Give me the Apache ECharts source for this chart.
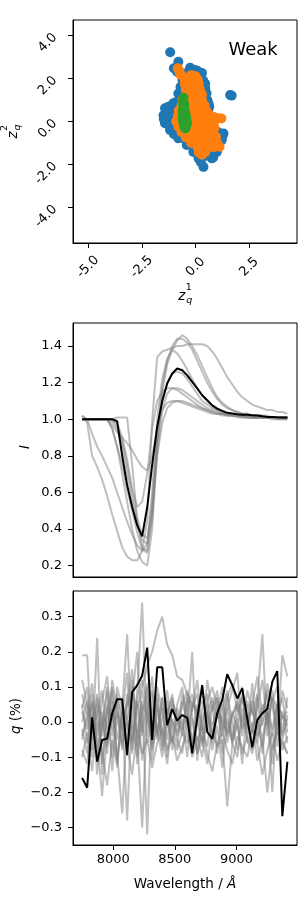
<!DOCTYPE html>
<html><head><meta charset="utf-8">
<script src="https://cdn.jsdelivr.net/npm/echarts@6/dist/echarts.min.js"></script>
<style>html,body{margin:0;padding:0;background:#fff}#c{width:300px;height:900px}</style>
</head><body><div id="c"></div>
<script>
// ---------- tick labels ----------
const zTicksX = [-5.0, -2.5, 0.0, 2.5];
const zTicksY = [-4.0, -2.0, 0.0, 2.0, 4.0];
const iTicks = [0.2, 0.4, 0.6, 0.8, 1.0, 1.2, 1.4];
const qTicks = [-0.3, -0.2, -0.1, 0.0, 0.1, 0.2, 0.3];
const wlTicks = [8000, 8500, 9000];

// ---------- latent scatter (z_q^1, z_q^2) ----------
const blueZ = [[-1.18,3.22],[-0.80,2.78],[-1.01,2.47],[-0.85,2.30],[-0.61,1.93],[-0.55,1.65],[-0.40,2.10],[-0.25,2.50],[-0.02,2.39],[0.10,2.35],[0.21,2.08],[0.30,2.25],[0.36,1.90],[0.45,1.54],[0.45,1.75],[0.51,1.31],[0.55,1.00],[0.60,0.84],[0.64,0.68],[0.60,0.40],[1.61,1.23],[1.68,1.20],
[-1.42,0.61],[-1.49,0.29],[-1.47,0.10],[-1.42,-0.09],[-1.30,0.00],[-1.18,-0.41],[-1.20,-0.25],[-0.80,-0.79],[-1.00,-0.60],[-1.27,0.68],[-1.15,0.55],[-1.04,0.84],[-0.90,0.90],[-0.73,0.99],[-0.80,1.30],[-0.70,1.60],[-0.41,-1.10],[-0.10,-1.42],
[1.30,-0.56],[1.22,-0.87],[1.25,-0.70],[0.99,-1.42],[0.95,-1.03],[0.82,-1.18],[0.90,-0.80],[1.05,-0.50],
[0.14,-1.72],[0.37,-2.12],[0.25,-1.90],[0.76,-1.72],[0.82,-1.68],[0.50,-1.60],[-0.03,-1.41],[-0.26,-1.03],[-0.45,-0.85],[-0.10,-1.20],[0.40,-1.35],[0.70,-1.40],
[-0.6,0.5],[-1.2,0.3],[-1.0,-0.1],[-0.7,-0.4],[-0.5,-0.8],[-0.2,-0.6],[0.2,-0.9],[0.5,-1.2],[0.7,-0.4],[0.6,0.2],[0.4,0.6],[0.0,0.4],[-0.4,0.1],[-0.9,0.2],[0.0,-1.2],[0.6,-0.9],[0.2,1.9],[-0.2,1.2],[0.1,1.4],[-0.35,2.3]];
const orangeZ = [[-0.82,2.47],[-0.75,2.35],
[-0.72,2.20],[-0.60,2.10],[-0.20,2.15],[0.00,2.10],
[-0.50,2.00],[-0.30,2.00],[-0.10,2.00],[0.10,1.95],
[-0.50,1.75],[-0.30,1.75],[-0.10,1.75],[0.15,1.75],
[-0.45,1.50],[-0.25,1.50],[-0.05,1.50],[0.20,1.50],
[-0.45,1.25],[-0.25,1.25],[0.00,1.25],[0.30,1.25],
[-0.60,1.00],[-0.40,1.00],[-0.20,1.00],[0.05,1.00],[0.30,1.00],
[-0.65,0.75],[-0.45,0.75],[-0.20,0.75],[0.05,0.75],[0.25,0.75],[0.42,0.75],
[-0.78,0.50],[-0.55,0.50],[-0.30,0.50],[-0.05,0.50],[0.20,0.50],[0.50,0.50],
[-0.82,0.25],[-0.60,0.25],[-0.35,0.25],[-0.10,0.25],[0.15,0.25],[0.40,0.25],[0.65,0.30],[0.85,0.20],[1.05,0.15],[1.20,0.14],
[-0.90,0.00],[-0.65,0.00],[-0.40,0.00],[-0.15,0.00],[0.10,0.00],[0.35,0.00],[0.60,0.00],[0.85,-0.05],
[-0.80,-0.25],[-0.55,-0.25],[-0.30,-0.25],[-0.05,-0.25],[0.20,-0.25],[0.45,-0.25],[0.70,-0.25],[0.88,-0.30],
[-0.65,-0.50],[-0.40,-0.50],[-0.15,-0.50],[0.10,-0.50],[0.35,-0.50],[0.60,-0.50],[0.80,-0.50],
[-0.45,-0.75],[-0.20,-0.75],[0.05,-0.75],[0.30,-0.75],[0.55,-0.75],[0.80,-0.75],[0.95,-0.72],
[-0.20,-1.00],[0.05,-1.00],[0.30,-1.00],[0.55,-1.00],[0.80,-1.00],[1.00,-1.00],
[0.10,-1.20],[0.35,-1.20],[0.60,-1.20],[0.85,-1.20],[1.12,-1.18],
[0.15,-1.45],[0.30,-1.55],[0.45,-1.42]];
const greenZ = [[-0.56,1.10],[-0.57,0.95],[-0.58,0.80],[-0.55,0.65],[-0.60,0.50],[-0.50,0.50],[-0.60,0.35],[-0.47,0.35],[-0.60,0.20],[-0.44,0.20],[-0.58,0.05],[-0.42,0.05],[-0.56,-0.10],[-0.40,-0.10],[-0.52,-0.25],[-0.44,-0.25],[-0.48,-0.33],[-0.52,0.80]];

// ---------- spectra ----------
const wavelength = [7748,7789,7829,7870,7910,7951,7992,8032,8073,8113,8154,8195,8235,8276,8316,8357,8398,8438,8479,8519,8560,8601,8641,8682,8722,8763,8804,8844,8885,8925,8966,9007,9047,9088,9128,9169,9210,9250,9291,9331,9372,9413];

const iMean = [1.0,1.0,1.0,1.0,1.0,1.0,1.0,0.99,0.80,0.64,0.52,0.42,0.36,0.52,0.75,0.96,1.10,1.195,1.25,1.277,1.268,1.24,1.204,1.168,1.131,1.104,1.076,1.058,1.046,1.035,1.031,1.027,1.025,1.024,1.022,1.02,1.016,1.013,1.013,1.011,1.009,1.009];
const iGrayA = [1.02,0.98,0.80,0.74,0.67,0.58,0.48,0.39,0.30,0.25,0.23,0.23,0.28,0.45,0.99,1.34,1.37,1.38,1.39,1.40,1.40,1.41,1.41,1.41,1.41,1.40,1.37,1.33,1.28,1.23,1.19,1.15,1.12,1.10,1.08,1.07,1.06,1.05,1.05,1.04,1.04,1.03];
const iGrayB = [1.0,1.0,1.0,1.0,1.0,1.0,0.95,0.85,0.70,0.55,0.40,0.28,0.22,0.20,0.40,0.85,1.15,1.30,1.38,1.43,1.46,1.44,1.40,1.35,1.29,1.23,1.17,1.12,1.09,1.07,1.05,1.04,1.03,1.03,1.02,1.02,1.02,1.01,1.01,1.01,1.01,1.01];
const iGrayC = [1.0,1.0,1.0,1.0,1.0,1.0,0.97,0.93,0.90,0.87,0.83,0.78,0.74,0.72,0.80,0.95,1.05,1.09,1.10,1.10,1.09,1.08,1.07,1.06,1.05,1.04,1.03,1.03,1.02,1.02,1.02,1.01,1.01,1.01,1.01,1.01,1.01,1.01,1.00,1.00,1.00,1.00];
const iGrayD = [1.0,1.0,1.0,1.0,1.0,1.0,0.95,0.85,0.75,0.62,0.50,0.38,0.29,0.27,0.45,0.90,1.18,1.32,1.40,1.44,1.44,1.42,1.38,1.32,1.26,1.20,1.15,1.11,1.08,1.06,1.05,1.04,1.03,1.03,1.02,1.02,1.02,1.02,1.01,1.01,1.01,1.01];
const iGrayE = [1.0,1.0,1.0,1.0,1.0,1.0,1.0,0.98,0.90,0.78,0.62,0.52,0.55,0.70,0.95,1.10,1.15,1.17,1.17,1.16,1.14,1.12,1.10,1.08,1.06,1.05,1.04,1.03,1.03,1.02,1.02,1.02,1.01,1.01,1.01,1.01,1.01,1.01,1.01,1.00,1.00,1.00];
const iGrayF = [1.0,1.0,1.0,1.0,1.0,1.0,1.0,1.01,1.01,1.01,0.75,0.45,0.30,0.28,0.55,0.90,1.10,1.20,1.25,1.26,1.25,1.22,1.18,1.14,1.10,1.08,1.06,1.05,1.04,1.03,1.03,1.02,1.02,1.02,1.01,1.01,1.01,1.01,1.01,1.01,1.01,1.01];
const iGrayG = [1.02,1.00,0.92,0.85,0.80,0.74,0.68,0.60,0.52,0.44,0.37,0.31,0.28,0.32,0.60,1.00,1.22,1.33,1.38,1.36,1.32,1.27,1.22,1.17,1.13,1.10,1.07,1.05,1.04,1.03,1.02,1.02,1.02,1.01,1.01,1.01,1.01,1.01,1.01,1.01,1.01,1.01];
const iGrayH = [1.0,1.0,1.0,1.0,1.0,1.0,1.0,0.97,0.88,0.75,0.60,0.46,0.37,0.35,0.50,0.80,0.98,1.06,1.09,1.10,1.10,1.09,1.08,1.07,1.06,1.05,1.04,1.03,1.03,1.02,1.02,1.02,1.02,1.01,1.01,1.01,1.01,1.01,1.01,1.01,1.01,1.01];
const iGrayI = [1.0,1.0,1.0,1.0,1.0,1.0,0.99,0.95,0.85,0.70,0.55,0.42,0.34,0.32,0.48,0.82,1.05,1.14,1.17,1.17,1.16,1.14,1.12,1.10,1.08,1.06,1.05,1.04,1.03,1.03,1.02,1.02,1.02,1.02,1.01,1.01,1.01,1.01,1.01,1.01,1.01,1.01];
const iGrays = [iGrayA,iGrayB,iGrayC,iGrayD,iGrayE,iGrayF,iGrayG,iGrayH,iGrayI];

const qMean = [-0.159,-0.187,0.013,-0.113,-0.051,-0.047,0.025,0.065,0.065,-0.094,0.085,0.105,0.132,0.212,-0.051,0.156,0.156,-0.009,0.037,0.004,0.020,0.012,-0.089,0.010,0.105,-0.028,-0.048,0.025,0.063,0.136,0.105,0.067,0.096,0.010,-0.072,0.006,0.025,0.037,0.115,0.145,-0.268,-0.113];
const qGrayA = [0.12,0.05,-0.02,0.08,-0.12,0.03,0.10,-0.05,0.02,0.14,-0.08,0.09,0.34,-0.06,0.04,-0.03,0.07,-0.10,0.05,0.01,-0.04,0.08,-0.07,0.03,0.10,-0.02,0.06,-0.09,0.04,0.09,-0.05,0.02,0.07,-0.03,0.11,-0.06,0.03,0.08,-0.04,0.05,0.02,-0.01];
const qGrayB = [-0.05,0.03,-0.10,0.05,-0.02,0.09,-0.14,0.02,-0.07,0.04,0.12,-0.03,0.06,-0.32,0.08,-0.05,0.01,0.06,-0.08,0.04,-0.02,0.07,0.02,-0.09,0.01,0.05,-0.06,0.03,-0.04,0.08,0.00,-0.08,0.04,-0.02,0.06,0.01,-0.05,0.03,-0.12,0.02,0.07,-0.03];
const qGrayC = [0.03,-0.02,0.06,0.01,-0.04,0.04,0.00,0.07,0.02,0.05,0.08,0.04,0.10,0.16,0.20,0.26,0.30,0.22,0.19,0.13,0.12,0.08,0.05,0.03,0.06,0.02,-0.01,0.04,0.00,-0.03,0.02,0.05,-0.02,0.01,0.04,-0.04,0.00,0.03,-0.02,0.05,0.01,0.03];
const qGrayD = [0.19,0.19,-0.08,0.24,-0.15,0.05,-0.10,0.08,-0.03,-0.06,0.10,-0.12,0.02,0.11,-0.08,0.05,-0.04,0.09,-0.02,-0.07,0.06,0.00,0.20,-0.11,0.04,0.08,-0.05,0.02,0.10,-0.06,0.03,-0.02,0.07,0.01,-0.08,0.06,0.25,-0.04,0.09,-0.03,0.19,0.13];
const qGrayE = [-0.08,-0.12,0.02,-0.05,-0.21,-0.03,0.04,-0.09,-0.26,0.00,-0.06,0.05,-0.11,0.03,-0.07,-0.02,-0.10,0.00,-0.05,-0.08,-0.03,-0.06,0.01,-0.09,-0.04,-0.12,-0.02,-0.07,-0.05,-0.24,-0.06,-0.01,-0.09,-0.04,0.00,-0.11,-0.05,-0.20,-0.07,-0.02,-0.08,-0.04];
const qGrayF = [0.08,0.02,0.11,-0.04,0.06,0.13,-0.02,0.10,0.04,0.25,-0.05,0.07,0.12,0.05,0.09,-0.03,0.04,0.02,0.07,-0.01,0.05,0.09,0.03,0.12,-0.02,0.06,0.10,0.04,0.00,0.07,0.11,0.03,0.08,-0.01,0.05,0.13,0.02,0.09,0.06,0.10,-0.03,0.07];
const qGrayG = [-0.02,-0.09,0.04,-0.15,0.01,-0.07,0.06,-0.11,0.03,-0.28,0.05,-0.04,-0.30,0.02,-0.06,0.08,-0.03,-0.12,0.01,-0.05,-0.09,0.02,-0.07,-0.04,-0.10,0.03,-0.08,-0.01,-0.13,0.00,-0.06,-0.10,0.02,-0.05,-0.09,-0.01,-0.07,0.04,-0.08,-0.03,-0.06,-0.09];
const qGrayH = [0.04,0.10,-0.05,0.07,0.01,-0.09,0.12,0.03,-0.02,0.06,0.15,-0.07,0.09,0.02,0.13,-0.04,0.07,0.00,-0.06,0.05,0.10,-0.03,0.04,0.08,-0.05,0.12,0.03,0.07,-0.02,0.04,0.09,0.14,-0.04,0.06,0.02,0.08,-0.01,0.11,0.05,-0.02,0.09,0.04];
const qGrayI = [-0.10,-0.03,-0.14,0.00,-0.08,-0.18,-0.05,-0.12,0.02,-0.07,-0.15,-0.02,-0.09,-0.05,-0.13,-0.06,-0.02,-0.08,-0.04,-0.11,-0.07,-0.03,-0.10,-0.05,-0.01,-0.09,-0.14,-0.06,-0.03,-0.08,-0.12,-0.04,-0.07,-0.10,-0.02,-0.06,-0.15,-0.08,-0.03,-0.11,-0.05,-0.09];
const qGrayJ = [0.00,0.06,-0.03,0.02,0.09,-0.06,0.03,0.05,-0.08,0.01,0.07,0.20,-0.04,0.05,-0.02,0.10,0.03,-0.05,0.06,0.02,-0.03,0.04,0.08,0.00,-0.06,0.03,0.07,0.01,0.05,-0.04,0.02,0.06,-0.01,0.09,0.03,-0.02,0.05,0.00,0.07,0.04,-0.05,0.01];
const qGrayK = [0.05,-0.06,0.08,-0.10,0.03,-0.02,0.09,-0.13,0.05,0.01,-0.09,0.06,-0.03,0.10,-0.11,0.04,-0.07,0.02,0.08,-0.04,0.01,-0.10,0.06,0.03,-0.07,0.02,-0.03,0.07,-0.09,0.04,-0.06,0.01,-0.12,0.05,-0.03,0.07,-0.09,0.03,-0.20,0.06,-0.04,0.02];
const qGrayL = [-0.04,0.01,0.05,-0.07,-0.02,0.10,-0.04,0.03,-0.06,0.08,0.00,-0.10,0.05,0.02,-0.05,0.07,-0.08,0.04,0.00,-0.03,0.08,0.03,-0.06,0.05,-0.02,-0.07,0.04,0.09,-0.03,0.01,-0.05,0.06,0.10,-0.06,-0.02,0.04,0.12,-0.01,0.06,-0.07,0.03,-0.06];
const qGrays = [qGrayA,qGrayB,qGrayC,qGrayD,qGrayE,qGrayF,qGrayG,qGrayH,qGrayI,qGrayJ,qGrayK,qGrayL];

// ---------- build ----------
const FONT = 'DejaVu Sans';
const pair = arr => arr.map((v, i) => [wavelength[i], v]);
const minusFmt = v => (v < 0 ? '\u2212' : '') + Math.abs(v).toFixed(1);
const baseLine = {show: true, onZero: false, lineStyle: {color: '#000', width: 1}};
const labelBase = {color: '#000', fontSize: 13, fontFamily: FONT};

const series = [];
series.push({type: 'scatter', xAxisIndex: 0, yAxisIndex: 0, data: blueZ, symbolSize: 10, itemStyle: {color: '#1f77b4', opacity: 1}});
series.push({type: 'scatter', xAxisIndex: 0, yAxisIndex: 0, data: orangeZ, symbolSize: 10, itemStyle: {color: '#ff7f0e', opacity: 1}});
series.push({type: 'scatter', xAxisIndex: 0, yAxisIndex: 0, data: greenZ, symbolSize: 10, itemStyle: {color: '#2ca02c', opacity: 1}});
iGrays.forEach(g => series.push({type: 'line', xAxisIndex: 1, yAxisIndex: 1, data: pair(g), symbol: 'none',
  lineStyle: {color: '#808080', opacity: 0.5, width: 2}}));
series.push({type: 'line', xAxisIndex: 1, yAxisIndex: 1, data: pair(iMean), symbol: 'none', lineStyle: {color: '#000', width: 2}});
qGrays.forEach(g => series.push({type: 'line', xAxisIndex: 2, yAxisIndex: 2, data: pair(g), symbol: 'none',
  lineStyle: {color: '#808080', opacity: 0.5, width: 2}}));
series.push({type: 'line', xAxisIndex: 2, yAxisIndex: 2, data: pair(qMean), symbol: 'none', lineStyle: {color: '#000', width: 2}});

const gridBase = {show: true, borderColor: '#000', borderWidth: 1, backgroundColor: 'transparent', containLabel: false};

const option = {
  animation: false,
  backgroundColor: '#fff',
  grid: [
    Object.assign({left: 73, top: 20, width: 224, height: 223}, gridBase),
    Object.assign({left: 73, top: 323, width: 224, height: 254}, gridBase),
    Object.assign({left: 73, top: 591, width: 224, height: 254}, gridBase)
  ],
  xAxis: [
    {gridIndex: 0, type: 'value', min: -5.70, max: 4.72, axisLine: baseLine, splitLine: {show: false},
      axisTick: {show: true, length: 5, customValues: zTicksX, lineStyle: {color: '#000'}},
      axisLabel: Object.assign({customValues: zTicksX, rotate: 45, align: 'center', verticalAlign: 'middle', margin: 24,
        formatter: v => v.toFixed(1)}, labelBase)},
    {gridIndex: 1, type: 'value', min: 7674, max: 9491, axisLine: baseLine, splitLine: {show: false},
      axisTick: {show: false}, axisLabel: {show: false}},
    {gridIndex: 2, type: 'value', min: 7674, max: 9491, axisLine: baseLine, splitLine: {show: false},
      axisTick: {show: true, length: 5, customValues: wlTicks, lineStyle: {color: '#000'}},
      axisLabel: Object.assign({customValues: wlTicks, margin: 8, formatter: v => String(v)}, labelBase)}
  ],
  yAxis: [
    {gridIndex: 0, type: 'value', min: -5.66, max: 4.72, axisLine: baseLine, splitLine: {show: false},
      axisTick: {show: true, length: 5, customValues: zTicksY, lineStyle: {color: '#000'}},
      axisLabel: Object.assign({customValues: zTicksY, rotate: 45, align: 'right', verticalAlign: 'middle', margin: 18,
        formatter: v => v.toFixed(1)}, labelBase)},
    {gridIndex: 1, type: 'value', min: 0.138, max: 1.526, axisLine: baseLine, splitLine: {show: false},
      axisTick: {show: true, length: 5, customValues: iTicks, lineStyle: {color: '#000'}},
      axisLabel: Object.assign({customValues: iTicks, margin: 11, formatter: v => v.toFixed(1)}, labelBase)},
    {gridIndex: 2, type: 'value', min: -0.350, max: 0.373, axisLine: baseLine, splitLine: {show: false},
      axisTick: {show: true, length: 5, customValues: qTicks, lineStyle: {color: '#000'}},
      axisLabel: Object.assign({customValues: qTicks, margin: 11, formatter: minusFmt}, labelBase)}
  ],
  graphic: [
    {type: 'text', x: 228.5, y: 50, style: {text: 'Weak', font: '18px "DejaVu Sans"', fill: '#000', textAlign: 'left', textVerticalAlign: 'middle'}},
    {type: 'group', x: 181.7, y: 296, children: [
      {type: 'text', x: 0, y: 0, style: {text: 'z', font: 'italic 13.5px "DejaVu Sans"', fill: '#000', textAlign: 'center', textVerticalAlign: 'middle'}},
      {type: 'text', x: 7, y: -8.5, style: {text: '1', font: '9.5px "DejaVu Sans"', fill: '#000', textAlign: 'center', textVerticalAlign: 'middle'}},
      {type: 'text', x: 7.5, y: 4.5, style: {text: 'q', font: 'italic 9.5px "DejaVu Sans"', fill: '#000', textAlign: 'center', textVerticalAlign: 'middle'}}
    ]},
    {type: 'group', x: 13.5, y: 135, rotation: Math.PI / 2, children: [
      {type: 'text', x: 0, y: 0, style: {text: 'z', font: 'italic 13.5px "DejaVu Sans"', fill: '#000', textAlign: 'center', textVerticalAlign: 'middle'}},
      {type: 'text', x: 7, y: -8.5, style: {text: '2', font: '9.5px "DejaVu Sans"', fill: '#000', textAlign: 'center', textVerticalAlign: 'middle'}},
      {type: 'text', x: 7.5, y: 4.5, style: {text: 'q', font: 'italic 9.5px "DejaVu Sans"', fill: '#000', textAlign: 'center', textVerticalAlign: 'middle'}}
    ]},
    {type: 'text', x: 25, y: 447, rotation: Math.PI / 2, style: {text: 'I', font: 'italic 13.5px "DejaVu Sans"', fill: '#000', textAlign: 'center', textVerticalAlign: 'middle'}},
    {type: 'text', x: 16, y: 716, rotation: Math.PI / 2, style: {text: '{i|q} (%)', font: '13.5px "DejaVu Sans"', fill: '#000', textAlign: 'center', textVerticalAlign: 'middle',
      rich: {i: {fontStyle: 'italic', fontSize: 13.5, fontFamily: FONT}}}},
    {type: 'text', x: 185, y: 884, style: {text: 'Wavelength / {i|Å}', font: '13.5px "DejaVu Sans"', fill: '#000', textAlign: 'center', textVerticalAlign: 'middle',
      rich: {i: {fontStyle: 'italic', fontSize: 13.5, fontFamily: FONT}}}}
  ],
  series: series
};

const chart = echarts.init(document.getElementById('c'), null, {renderer: 'canvas'});
chart.setOption(option);
</script></body></html>
